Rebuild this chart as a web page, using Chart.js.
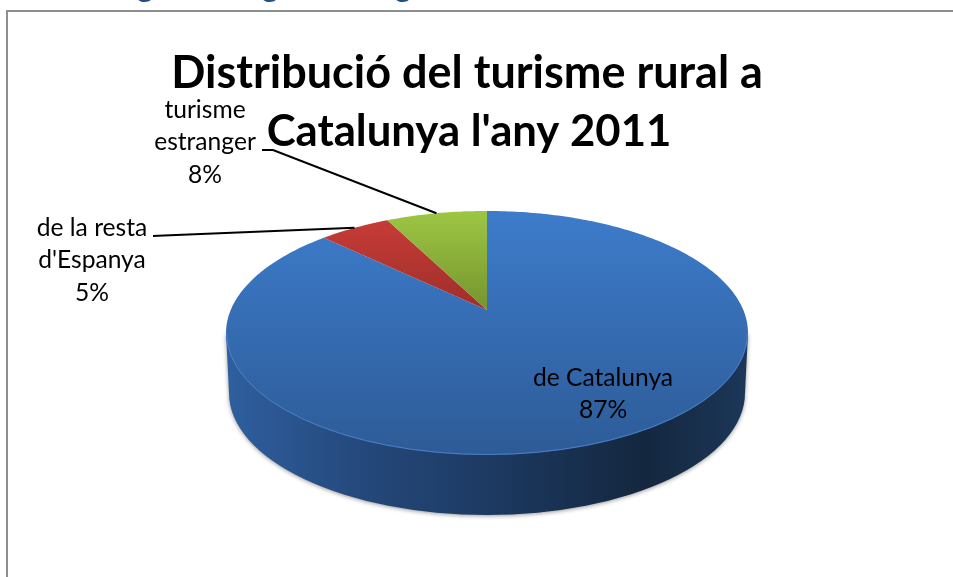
<!DOCTYPE html>
<html>
<head>
<meta charset="utf-8">
<style>
html, body { margin: 0; padding: 0; background: #fff; overflow: hidden; }
#frame { position: absolute; left: 6px; top: 10px; width: 2000px; height: 2000px; border: 2px solid #8e8e8e; }
#chart { position: absolute; left: 0; top: 0; }
</style>
</head>
<body>
<div id="frame"></div>
<canvas id="chart" width="953" height="577"></canvas>
<script src="https://cdn.jsdelivr.net/npm/chart.js@4"></script>
<script>
const titleLines = ['Distribució del turisme rural a', "Catalunya l'any 2011"];
const categories = ['de Catalunya', 'de la resta', 'turisme'];
const categoryLines = [['de Catalunya'], ['de la resta', "d'Espanya"], ['turisme', 'estranger']];
const values = [87.2, 5.3, 7.5];

const topColors = ['#3d7ccb', '#ca3d38', '#9dc644'];
const apexColors = ['#2d5b97', '#9f2e2a', '#76942e'];

// where the labels sit, centre x / first line y
const labelPos = [[603, 378], [92, 228], [205, 110]];
const leaderStart = [null, [153, 236], [262, 150]];
// bottoms of the heading cut off by the top of the page
const cutOffGlyphs = [145, 270, 403];

// fake perspective of the tilted pie
const view = { rx: 256.3, ry: 117.7, p: 0.1885, depth: 62 };

function project(cx, cy, angle) {
    const u = Math.cos(angle), v = Math.sin(angle);
    const w = 1 - view.p * v;
    return [cx + view.rx * u / w, cy + view.ry * v / w];
}

const piePlugin = {
    id: 'pie3d',
    beforeDatasetDraw(chart, args) {
        const ctx = chart.ctx;
        const arcs = args.meta.data;
        const cx = arcs[0].x, cy = arcs[0].y;
        const midY = cy + 23, halfW = 261, halfH = 122;

        // side wall
        const wall = ctx.createLinearGradient(cx - halfW, 0, cx + halfW, 0);
        wall.addColorStop(0, '#2f5f9f');
        wall.addColorStop(0.25, '#25497c');
        wall.addColorStop(0.5, '#1d3a63');
        wall.addColorStop(0.8, '#14273f');
        wall.addColorStop(1, '#1c3759');
        ctx.save();
        ctx.shadowColor = 'rgba(0,0,0,0.4)';
        ctx.shadowBlur = 4;
        ctx.shadowOffsetY = 1;
        ctx.fillStyle = wall;
        ctx.beginPath();
        ctx.ellipse(cx, midY + view.depth - 2, halfW - 3, halfH, 0, 0, Math.PI);
        ctx.lineTo(cx - halfW, midY);
        ctx.lineTo(cx + halfW, midY);
        ctx.closePath();
        ctx.fill();
        ctx.restore();

        // top face, angles come from the chart's own arcs
        arcs.forEach((arc, i) => {
            const grad = i === 0
                ? ctx.createLinearGradient(0, cy - 99, 0, cy + 145)
                : ctx.createLinearGradient(0, cy - 99, 0, cy);
            grad.addColorStop(0, topColors[i]);
            grad.addColorStop(1, apexColors[i]);
            ctx.fillStyle = grad;
            ctx.beginPath();
            ctx.moveTo(cx, cy);
            const steps = Math.ceil((arc.endAngle - arc.startAngle) * 60);
            for (let s = 0; s <= steps; s++) {
                const pt = project(cx, cy, arc.startAngle + (arc.endAngle - arc.startAngle) * s / steps);
                ctx.lineTo(pt[0], pt[1]);
            }
            ctx.closePath();
            ctx.fill();
        });

        // light front edge of the top face
        ctx.strokeStyle = '#4a80c6';
        ctx.lineWidth = 1;
        ctx.beginPath();
        ctx.ellipse(cx, midY, halfW - 0.5, halfH - 0.5, 0, 0, Math.PI);
        ctx.stroke();
        return false;
    },
    afterDatasetsDraw(chart) {
        const ctx = chart.ctx;
        const arcs = chart.getDatasetMeta(0).data;
        const total = values.reduce((a, b) => a + b, 0);
        ctx.fillStyle = '#000';
        ctx.font = '24.6px Lato, Carlito, sans-serif';
        ctx.textAlign = 'center';
        ctx.textBaseline = 'middle';
        values.forEach((val, i) => {
            const lines = categoryLines[i].concat(Math.round(val / total * 100) + '%');
            lines.forEach((line, n) => ctx.fillText(line, labelPos[i][0], labelPos[i][1] + n * 32.5));
            if (leaderStart[i]) {
                const end = project(arcs[i].x, arcs[i].y, (arcs[i].startAngle + arcs[i].endAngle) / 2);
                ctx.strokeStyle = '#000';
                ctx.lineWidth = 2;
                ctx.beginPath();
                ctx.moveTo(leaderStart[i][0], leaderStart[i][1]);
                ctx.lineTo(leaderStart[i][0] + 11, leaderStart[i][1] - (i === 1 ? 0.4 : 0));
                ctx.lineTo(end[0], end[1]);
                ctx.stroke();
            }
        });
    }
};

new Chart(document.getElementById('chart'), {
    type: 'pie',
    data: {
        labels: categories,
        datasets: [{
            data: values,
            backgroundColor: topColors,
            borderWidth: 0
        }]
    },
    options: {
        responsive: false,
        animation: false,
        layout: { padding: { left: 21, top: 43, right: 0, bottom: 0 } },
        plugins: {
            legend: { display: false },
            tooltip: { enabled: false },
            title: { display: false }
        }
    },
    plugins: [piePlugin, {
        id: 'titleText',
        afterDraw(chart) {
            const ctx = chart.ctx;
            ctx.textAlign = 'center';
            ctx.fillStyle = '#1f4e8c';
            ctx.font = 'bold 30px Lato, Carlito, sans-serif';
            ctx.textBaseline = 'alphabetic';
            cutOffGlyphs.forEach(x => ctx.fillText('g', x, -3));
            ctx.fillStyle = '#000';
            ctx.textBaseline = 'middle';
            // digits run wider in Lato, so the second line is a touch smaller
            ctx.font = 'bold 45px Lato, Carlito, sans-serif';
            ctx.fillText(titleLines[0], 467, 73);
            ctx.font = 'bold 43.7px Lato, Carlito, sans-serif';
            ctx.fillText(titleLines[1], 469, 132);
        }
    }]
});
</script>
</body>
</html>
